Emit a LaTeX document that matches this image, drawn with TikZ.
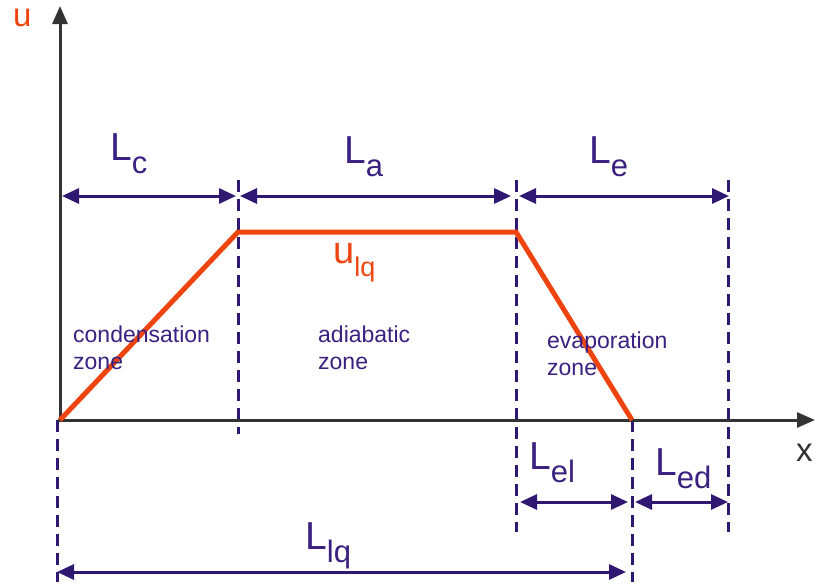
\documentclass[tikz,border=0pt]{standalone}
\usepackage{fontspec}
\setmainfont{Liberation Sans}
\usetikzlibrary{arrows.meta}
\definecolor{purp}{HTML}{2E1872}
\definecolor{ptext}{HTML}{3A2080}
\definecolor{orng}{HTML}{EE4410}
\definecolor{axisc}{HTML}{333333}
\newcommand{\Lsub}[1]{L\raisebox{-13pt}{\fontsize{31}{31}\selectfont #1}}
\begin{document}
\begin{tikzpicture}[x=1pt,y=-1pt,
  axisline/.style={draw=axisc,line width=3pt,-{Triangle[length=18pt,width=15pt]}},
  dimline/.style={draw=purp,line width=3pt,{Triangle[length=17pt,width=15pt]}-{Triangle[length=17pt,width=15pt]}},
  dashline/.style={draw=purp,line width=3pt,dash pattern=on 12pt off 7pt},
  curve/.style={draw=orng,line width=5pt,line join=miter},
  biglab/.style={text=ptext,font=\fontsize{39}{40}\selectfont,inner sep=0pt,anchor=base west},
  zonelab/.style={text=ptext,font=\fontsize{23}{27}\selectfont,inner sep=0pt,anchor=base west,align=left},
  axlab/.style={font=\fontsize{33}{35}\selectfont,inner sep=0pt,anchor=base west}]
\useasboundingbox (0,0) rectangle (817,587);
% coordinates
\coordinate (O) at (60,420);
\coordinate (Ytop) at (60,6);
\coordinate (Xend) at (815,420);
\coordinate (A) at (238,232);
\coordinate (B) at (516,232);
\coordinate (C) at (632,420);
% dashed verticals
\coordinate (d1t) at (238,180); \coordinate (d1b) at (238,434);
\coordinate (d2t) at (516,180); \coordinate (d2b) at (516,532);
\coordinate (d3t) at (632,420); \coordinate (d3b) at (632,582);
\coordinate (d4t) at (728,180); \coordinate (d4b) at (728,532);
\coordinate (d5t) at (57,420);  \coordinate (d5b) at (57,582);
\draw[dashline] (d1t) -- (d1b);
\draw[dashline] (d2t) -- (d2b);
\draw[dashline] (d3t) -- (d3b);
\draw[dashline] (d4t) -- (d4b);
\draw[dashline] (d5t) -- (d5b);
% axes
\draw[axisline] (60,421) -- (Ytop);
\draw[axisline] (58,420) -- (Xend);
% curve
\draw[curve] (O) -- (A) -- (B) -- (C);
% dimension arrows
\coordinate (c1) at (62,196);  \coordinate (c2) at (236,196);
\coordinate (a1) at (240,196); \coordinate (a2) at (511,196);
\coordinate (e1) at (519,196); \coordinate (e2) at (729,196);
\coordinate (el1) at (520,502); \coordinate (el2) at (628,502);
\coordinate (ed1) at (635,502); \coordinate (ed2) at (728,502);
\coordinate (lq1) at (57,572);  \coordinate (lq2) at (626,572);
\draw[dimline] (c1) -- (c2);
\draw[dimline] (a1) -- (a2);
\draw[dimline] (e1) -- (e2);
\draw[dimline] (el1) -- (el2);
\draw[dimline] (ed1) -- (ed2);
\draw[dimline] (lq1) -- (lq2);
% labels
\node[axlab,text=orng] (ulab) at (13,26) {u};
\node[axlab,text=axisc] (xlab) at (796,461) {x};
\node[biglab] (Lc) at (110,160) {\Lsub{c}};
\node[biglab] (La) at (344,163) {\Lsub{a}};
\node[biglab] (Le) at (589,163) {\Lsub{e}};
\node[biglab] (Lel) at (529,469) {\Lsub{el}};
\node[biglab] (Led) at (655,475) {\Lsub{ed}};
\node[biglab] (Llq) at (305,549) {\Lsub{lq}};
\node[text=orng,font=\fontsize{38}{40}\selectfont,inner sep=0pt,anchor=base west] (ulq) at (333,263) {u\raisebox{-13pt}{\fontsize{27}{27}\selectfont lq}};
\node[zonelab] (cz) at (73,369) {condensation\\zone};
\node[zonelab] (az) at (318,369) {adiabatic\\zone};
\node[zonelab] (ez) at (547,375) {evaporation\\zone};
\end{tikzpicture}
\end{document}
